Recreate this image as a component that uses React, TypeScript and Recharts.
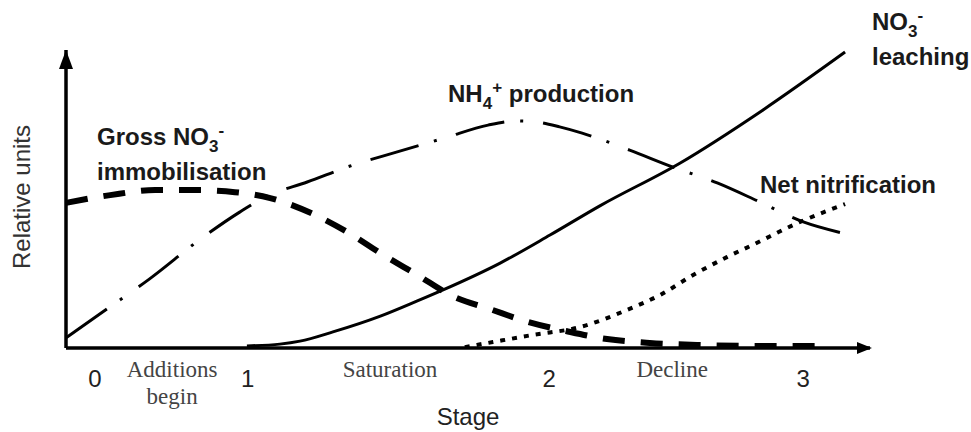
import { LineChart, Line, XAxis, YAxis, ReferenceDot } from "recharts";

// positions along the axes (0..100 of each axis length)
const nh4X = [0, 5.1, 10.4, 16.9, 21.6, 25.0, 30.0, 35.7, 41.2, 47.1, 52.5, 56.1, 58.6, 61.4, 64.2, 70.1, 75.5, 81.0, 86.3, 91.7, 96.5];
const nh4Y = [3.4, 13.1, 23.2, 36.9, 45.6, 51.0, 55.7, 61.4, 65.8, 70.5, 74.8, 76.2, 75.8, 74.2, 72.1, 66.4, 60.7, 55.4, 49.0, 42.3, 38.6];

const immobX = [0, 5.5, 11.1, 16.0, 21.0, 25.4, 30.7, 35.0, 39.3, 43.7, 48.1, 52.7, 57.5, 62.2, 67.3, 72.6, 78.9, 86.3, 93.8];
const immobY = [48.7, 51.3, 53.0, 53.0, 52.3, 50.3, 45.0, 38.9, 31.5, 24.5, 17.4, 13.1, 8.7, 5.7, 3.0, 1.7, 1.0, 0.7, 0.7];

const leachX = [22.5, 26.6, 29.1, 33.2, 39.1, 43.7, 46.9, 54.0, 60.2, 66.4, 76.4, 86.7, 96.9];
const leachY = [0.7, 1.3, 2.3, 5.4, 10.7, 15.8, 19.5, 28.5, 37.9, 47.7, 62.1, 79.9, 99.3];

const nitrX = [49.6, 53.1, 58.1, 63.9, 69.8, 73.9, 78.0, 82.2, 85.4, 91.3, 96.9];
const nitrY = [0.3, 2.0, 4.4, 7.0, 12.8, 17.8, 24.5, 30.5, 34.6, 42.3, 48.3];

const stageTicks = [3.6, 22.6, 60.1, 91.7];
const stageLabels = ["0", "1", "2", "3"];
const phaseTicks = [13.2, 40.3, 75.4];
const phaseLabels = [["Additions", "begin"], ["Saturation"], ["Decline"]];

const sans = "'Liberation Sans', Arial, sans-serif";
const serif = "'Liberation Serif', 'Times New Roman', serif";

const toPoints = (xs: number[], ys: number[]) => xs.map((x, i) => ({ x, y: ys[i] }));

function StageTick(props: any) {
  const { x, y, payload } = props;
  const si = stageTicks.indexOf(payload.value);
  if (si >= 0) {
    return (
      <text x={x} y={y + 39} textAnchor="middle" fontFamily={sans} fontSize={24} fill="#222">
        {stageLabels[si]}
      </text>
    );
  }
  const lines = phaseLabels[phaseTicks.indexOf(payload.value)] || [];
  return (
    <text x={x} y={y + 29} textAnchor="middle" fontFamily={serif} fontSize={23} fill="#444">
      {lines.map((l, i) => (
        <tspan key={i} x={x} dy={i === 0 ? 0 : 27}>
          {l}
        </tspan>
      ))}
    </text>
  );
}

const UpArrow = (p: any) => (
  <path d={`M${p.cx},${p.cy} L${p.cx - 7},${p.cy + 19} L${p.cx + 7},${p.cy + 19} Z`} fill="#000" />
);
const RightArrow = (p: any) => (
  <path d={`M${p.cx + 2},${p.cy} L${p.cx - 13},${p.cy - 6} L${p.cx - 13},${p.cy + 6} Z`} fill="#000" />
);

const labelStyle = { fontFamily: sans, fontSize: 24, fontWeight: 700, fill: "#1a1a1a" };

export default function App() {
  return (
    <div style={{ position: "absolute", left: 0, top: 0, background: "#fff" }}>
      <LineChart width={971} height={432} margin={{ top: 50, right: 101, bottom: 83, left: 65 }}>
        <XAxis
          type="number"
          dataKey="x"
          domain={[0, 100]}
          ticks={[...stageTicks, ...phaseTicks]}
          interval={0}
          height={1}
          tickSize={0}
          tickMargin={0}
          tickLine={false}
          axisLine={{ stroke: "#000", strokeWidth: 3.5 }}
          tick={<StageTick />}
        />
        <YAxis
          type="number"
          domain={[0, 100]}
          width={1}
          tick={false}
          tickLine={false}
          axisLine={{ stroke: "#000", strokeWidth: 3.5 }}
        />
        <ReferenceDot x={0} y={100} r={0} ifOverflow="visible" shape={UpArrow} />
        <ReferenceDot x={100} y={0} r={0} ifOverflow="visible" shape={RightArrow} />

        <Line
          data={toPoints(immobX, immobY)}
          dataKey="y"
          type="monotone"
          stroke="#000"
          strokeWidth={6}
          strokeDasharray="22 16"
          dot={false}
          isAnimationActive={false}
        />
        <Line
          data={toPoints(nh4X, nh4Y)}
          dataKey="y"
          type="monotone"
          stroke="#000"
          strokeWidth={3}
          strokeDasharray="50 16 3 20"
          dot={false}
          isAnimationActive={false}
        />
        <Line
          data={toPoints(leachX, leachY)}
          dataKey="y"
          type="monotone"
          stroke="#000"
          strokeWidth={3}
          dot={false}
          isAnimationActive={false}
        />
        <Line
          data={toPoints(nitrX, nitrY)}
          dataKey="y"
          type="monotone"
          stroke="#000"
          strokeWidth={4}
          strokeDasharray="5 7"
          dot={false}
          isAnimationActive={false}
        />

        <text x={97} y={145} style={labelStyle}>
          Gross NO<tspan dy={7} fontSize={17}>3</tspan>
          <tspan dy={-16} fontSize={17}>-</tspan>
        </text>
        <text x={97} y={180} style={labelStyle}>
          immobilisation
        </text>
        <text x={448} y={102} style={labelStyle}>
          NH<tspan dy={7} fontSize={17}>4</tspan>
          <tspan dy={-16} fontSize={17}>+</tspan>
          <tspan dy={9}> production</tspan>
        </text>
        <text x={872} y={30} style={labelStyle}>
          NO<tspan dy={7} fontSize={17}>3</tspan>
          <tspan dy={-16} fontSize={17}>-</tspan>
        </text>
        <text x={872} y={65} style={labelStyle}>
          leaching
        </text>
        <text x={760} y={193} style={labelStyle}>
          Net nitrification
        </text>
        <text
          x={21}
          y={197}
          transform="rotate(-90 21 197)"
          textAnchor="middle"
          dominantBaseline="central"
          fontFamily={sans}
          fontSize={24}
          fill="#333"
        >
          Relative units
        </text>
        <text x={468} y={425} textAnchor="middle" fontFamily={sans} fontSize={24} fill="#222">
          Stage
        </text>
      </LineChart>
    </div>
  );
}
